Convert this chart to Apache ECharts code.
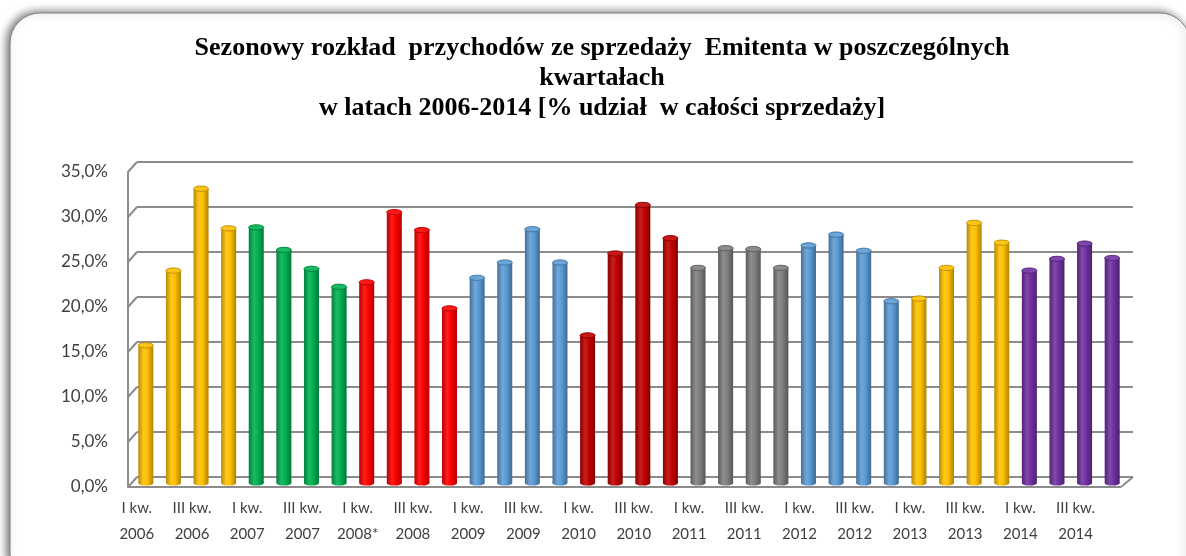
<!DOCTYPE html>
<html>
<head>
<meta charset="utf-8">
<script src="https://cdn.jsdelivr.net/npm/echarts@6/dist/echarts.min.js"></script>
<style>
  html, body { margin: 0; padding: 0; background: #fff; }
  #chart { width: 1186px; height: 556px; }
</style>
</head>
<body>
<div id="chart"></div>
<script>
// dane: udział kwartałów w sprzedaży rocznej [%]
const years = ['2006', '2007', '2008', '2009', '2010', '2011', '2012', '2013', '2014'];
const quarters = ['I kw.', 'II kw.', 'III kw.', 'IV kw.'];
const categories = [];
years.forEach(function (y) {
    quarters.forEach(function (q, k) {
        // gwiazdka tylko przy I kw. 2008
        categories.push(q + '\n' + y + (y === '2008' && k === 0 ? '*' : ''));
    });
});
const values = [
    15.3, 23.6, 32.7, 28.3,   // 2006
    28.4, 25.9, 23.8, 21.8,   // 2007
    22.3, 30.1, 28.1, 19.4,   // 2008
    22.8, 24.5, 28.2, 24.5,   // 2009
    16.4, 25.5, 30.9, 27.2,   // 2010
    23.9, 26.1, 26.0, 23.9,   // 2011
    26.4, 27.6, 25.8, 20.2,   // 2012
    20.5, 23.9, 28.9, 26.7,   // 2013
    23.6, 24.9, 26.6, 25.0    // 2014
];
const yTicks = [0, 5, 10, 15, 20, 25, 30, 35];
// kolor dla każdego roku
const yearColors = ['#FFC000', '#00B050', '#FF0000', '#5B9BD5', '#C00000', '#7F7F7F', '#5B9BD5', '#FFC000', '#7030A0'];

function shade(hex, f) {
    let r = parseInt(hex.substr(1, 2), 16), g = parseInt(hex.substr(3, 2), 16), b = parseInt(hex.substr(5, 2), 16);
    if (f < 0) { r = r * (1 + f); g = g * (1 + f); b = b * (1 + f); }
    else { r = r + (255 - r) * f; g = g + (255 - g) * f; b = b + (255 - b) * f; }
    return 'rgb(' + Math.round(r) + ',' + Math.round(g) + ',' + Math.round(b) + ')';
}

const gridColor = '#8c8c8c';
const labelColor = '#404040';

let myChart = echarts.init(document.getElementById('chart'));

const barData = values.map(function (v, i) { return [i, v]; });

myChart.setOption({
    animation: false,
    graphic: [
        { // ramka
            type: 'rect', z: -10,
            shape: { x: 10, y: 13, width: 1180, height: 570, r: 30 },
            style: { fill: '#fff', stroke: '#7f7f7f', lineWidth: 1,
                shadowBlur: 8, shadowOffsetX: -3, shadowOffsetY: -1, shadowColor: 'rgba(0,0,0,0.55)' }
        },
        {
            type: 'text', x: 602, y: 78, z: 10,
            style: {
                text: 'Sezonowy rozkład  przychodów ze sprzedaży  Emitenta w poszczególnych\nkwartałach\nw latach 2006-2014 [% udział  w całości sprzedaży]',
                font: 'bold 26px "Liberation Serif"', fill: '#000', lineHeight: 30,
                textAlign: 'center', textVerticalAlign: 'middle'
            }
        }
    ],
    grid: [
        { left: 132, right: 60, top: 168, bottom: 73 },   // słupki
        { left: 137, right: 53, top: 162, bottom: 79 },   // tylna ściana
        { left: 128, right: 66, top: 172, bottom: 69 },   // oś Y z przodu
        { left: 123, right: 69, top: 172, bottom: 69 }    // etykiety X z przodu
    ],
    xAxis: [
        { gridIndex: 0, type: 'category', data: categories, show: false },
        { gridIndex: 1, type: 'category', data: categories, show: false },
        { gridIndex: 2, type: 'value', show: false },
        {
            gridIndex: 3, type: 'category', data: categories,
            axisLine: { show: false }, axisTick: { show: false },
            axisLabel: { interval: 1, color: labelColor, fontFamily: 'Lato', fontSize: 15, lineHeight: 26, margin: 8 }
        }
    ],
    yAxis: [
        { gridIndex: 0, type: 'value', min: 0, max: 35, interval: 5, show: false },
        {
            gridIndex: 1, type: 'value', min: 0, max: 35, interval: 5,
            axisLine: { show: false }, axisTick: { show: false }, axisLabel: { show: false },
            splitLine: { lineStyle: { color: gridColor, width: 2 } }
        },
        {
            gridIndex: 2, type: 'value', min: 0, max: 35, interval: 5,
            axisLine: { show: true, lineStyle: { color: gridColor, width: 2 } },
            axisTick: { show: false }, splitLine: { show: false },
            axisLabel: {
                color: labelColor, fontFamily: 'Lato', fontSize: 17, margin: 20,
                formatter: function (v) { return v.toFixed(1).replace('.', ',') + '%'; }
            }
        },
        { gridIndex: 3, type: 'value', min: 0, max: 35, show: false }
    ],
    series: [
        {
            type: 'custom',
            xAxisIndex: 0, yAxisIndex: 0,
            data: barData,
            z: 5,
            renderItem: function (params, api) {
                const i = api.value(0);
                const top = api.coord([i, api.value(1)]);
                const base = api.coord([i, 0]);
                const c = yearColors[Math.floor(i / 4)];
                const w = 15, rx = 7.5, ry = 2.6;
                const body = new echarts.graphic.LinearGradient(0, 0, 1, 0, [
                    { offset: 0, color: shade(c, -0.28) },
                    { offset: 0.35, color: shade(c, 0.12) },
                    { offset: 0.6, color: c },
                    { offset: 1, color: shade(c, -0.32) }
                ]);
                return {
                    type: 'group',
                    children: [
                        { type: 'ellipse', shape: { cx: base[0], cy: base[1], rx: rx, ry: ry }, style: { fill: body } },
                        { type: 'rect', shape: { x: top[0] - w / 2, y: top[1], width: w, height: base[1] - top[1] }, style: { fill: body } },
                        { type: 'ellipse', shape: { cx: top[0], cy: top[1], rx: rx, ry: ry },
                          style: { fill: shade(c, 0.1), stroke: shade(c, -0.25), lineWidth: 1 } }
                    ]
                };
            }
        }
    ]
});

// boczna ściana i podłoga (linie ukośne)
function drawFrame() {
    const g = [];
    const line = { stroke: gridColor, lineWidth: 2 };
    yTicks.forEach(function (v) {
        const back = myChart.convertToPixel({ yAxisIndex: 1 }, v);
        const front = myChart.convertToPixel({ yAxisIndex: 2 }, v);
        g.push({ type: 'line', z: 1, shape: { x1: 128, y1: front, x2: 137, y2: back }, style: line });
    });
    const y0b = myChart.convertToPixel({ yAxisIndex: 1 }, 0);
    const y0f = myChart.convertToPixel({ yAxisIndex: 2 }, 0);
    g.push({ type: 'line', z: 1, shape: { x1: 128, y1: y0f, x2: 1121, y2: y0f }, style: line });
    g.push({ type: 'line', z: 1, shape: { x1: 1121, y1: y0f, x2: 1133, y2: y0b }, style: line });
    const opt = myChart.getOption();
    myChart.setOption({ graphic: opt.graphic[0].elements.concat(g) }, { replaceMerge: ['graphic'] });
}
drawFrame();
</script>
</body>
</html>
